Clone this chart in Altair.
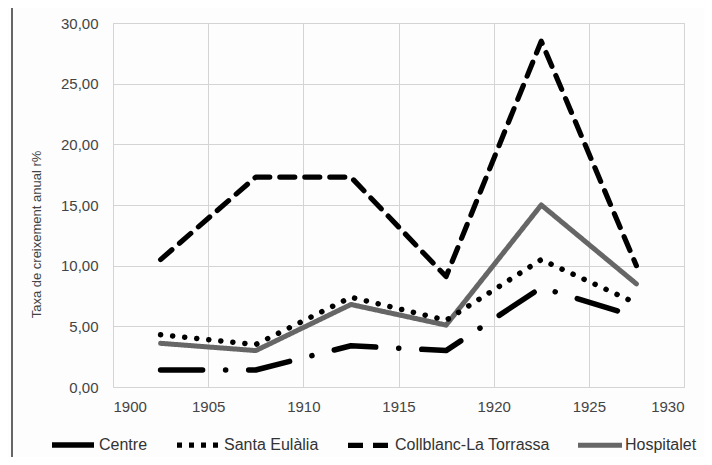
import altair as alt
import pandas as pd

years = [1902.5, 1907.5, 1912.5, 1917.5, 1922.5, 1927.5]
series = ["Centre", "Santa Eulàlia", "Collblanc-La Torrassa", "Hospitalet"]
centre = [1.4, 1.4, 3.4, 3.0, 8.2, 5.8]
santa_eulalia = [4.3, 3.5, 7.4, 5.5, 10.5, 6.9]
collblanc = [10.5, 17.3, 17.3, 9.1, 28.5, 10.0]
hospitalet = [3.6, 3.0, 6.8, 5.1, 15.0, 8.5]
x_ticks = [1900, 1905, 1910, 1915, 1920, 1925, 1930]
y_ticks = [0, 5, 10, 15, 20, 25, 30]

rows = []
for name, vals in zip(series, [centre, santa_eulalia, collblanc, hospitalet]):
    for yr, v in zip(years, vals):
        rows.append({"Any": yr, "Taxa": v, "Sèrie": name})
df = pd.DataFrame(rows)

FONT = "Liberation Sans"

leg = alt.Legend(title=None, orient="none", direction="horizontal",
                 legendX=-64, legendY=397, symbolType="stroke",
                 symbolSize=1936, labelFontSize=16, labelColor="#333",
                 labelFont=FONT, columnPadding=18, labelOffset=0,
                 columns=4, labelLimit=300)

x_enc = alt.X("Any:Q", scale=alt.Scale(domain=[1900, 1930], nice=False),
              axis=alt.Axis(values=x_ticks, format="d", title=None, ticks=False,
                            tickSize=0, labelPadding=12, domain=False))
y_enc = alt.Y("Taxa:Q", scale=alt.Scale(domain=[0, 30], nice=False),
              axis=alt.Axis(values=y_ticks, title="Taxa de creixement anual r%",
                            labelExpr="replace(format(datum.value, '.2f'), '.', ',')",
                            ticks=False, tickSize=0, labelPadding=15, domain=False,
                            titleX=-77, titleY=211, titleAlign="center",
                            titleBaseline="middle", titleFontWeight="normal",
                            titleFontSize=13, titleColor="#444"))

main = alt.Chart(df).transform_filter(
    alt.datum["Sèrie"] != "Santa Eulàlia"
).mark_line(strokeCap="round", strokeJoin="round").encode(
    x=x_enc,
    y=y_enc,
    color=alt.Color("Sèrie:N", scale=alt.Scale(domain=series,
                    range=["#000000", "#000000", "#000000", "#666666"]), legend=leg),
    strokeDash=alt.StrokeDash("Sèrie:N", scale=alt.Scale(domain=series,
                    range=[[42, 23, 0.1, 23], [5, 7], [15, 10], [1, 0]]), legend=leg),
    strokeWidth=alt.StrokeWidth("Sèrie:N", scale=alt.Scale(domain=series,
                    range=[5.5, 5, 5.5, 4]), legend=leg),
    order=alt.Order("Any:Q"),
)

dotted = alt.Chart(df).transform_filter(
    alt.datum["Sèrie"] == "Santa Eulàlia"
).mark_line(strokeCap="round", strokeJoin="round", strokeDash=[0.1, 12],
            strokeWidth=5.5, color="#000000").encode(
    x="Any:Q", y="Taxa:Q", order=alt.Order("Any:Q"),
)

base = alt.Chart(pd.DataFrame({"a": [0]}))
left_border = base.mark_rule(color="#666", strokeWidth=2).encode(
    x=alt.value(-101), y=alt.value(-19), y2=alt.value(450))
top_border = base.mark_rule(color="#666", strokeWidth=2.5).encode(
    x=alt.value(-101), x2=alt.value(600), y=alt.value(-18.5))

chart = alt.layer(main, dotted, left_border, top_border).properties(
    width=571, height=364,
    autosize=alt.AutoSizeParams(type="none"),
    padding={"left": 105, "top": 15, "right": 20, "bottom": 70},
).configure(background="#fdfdfd").configure_view(
    stroke="#d4d4d4", strokeWidth=1
).configure_axis(
    gridColor="#d4d4d4", gridWidth=1, labelFont=FONT, titleFont=FONT,
    labelFontSize=15, labelColor="#444"
)

chart.save("out.html", embed_options={"renderer": "svg", "actions": False})
